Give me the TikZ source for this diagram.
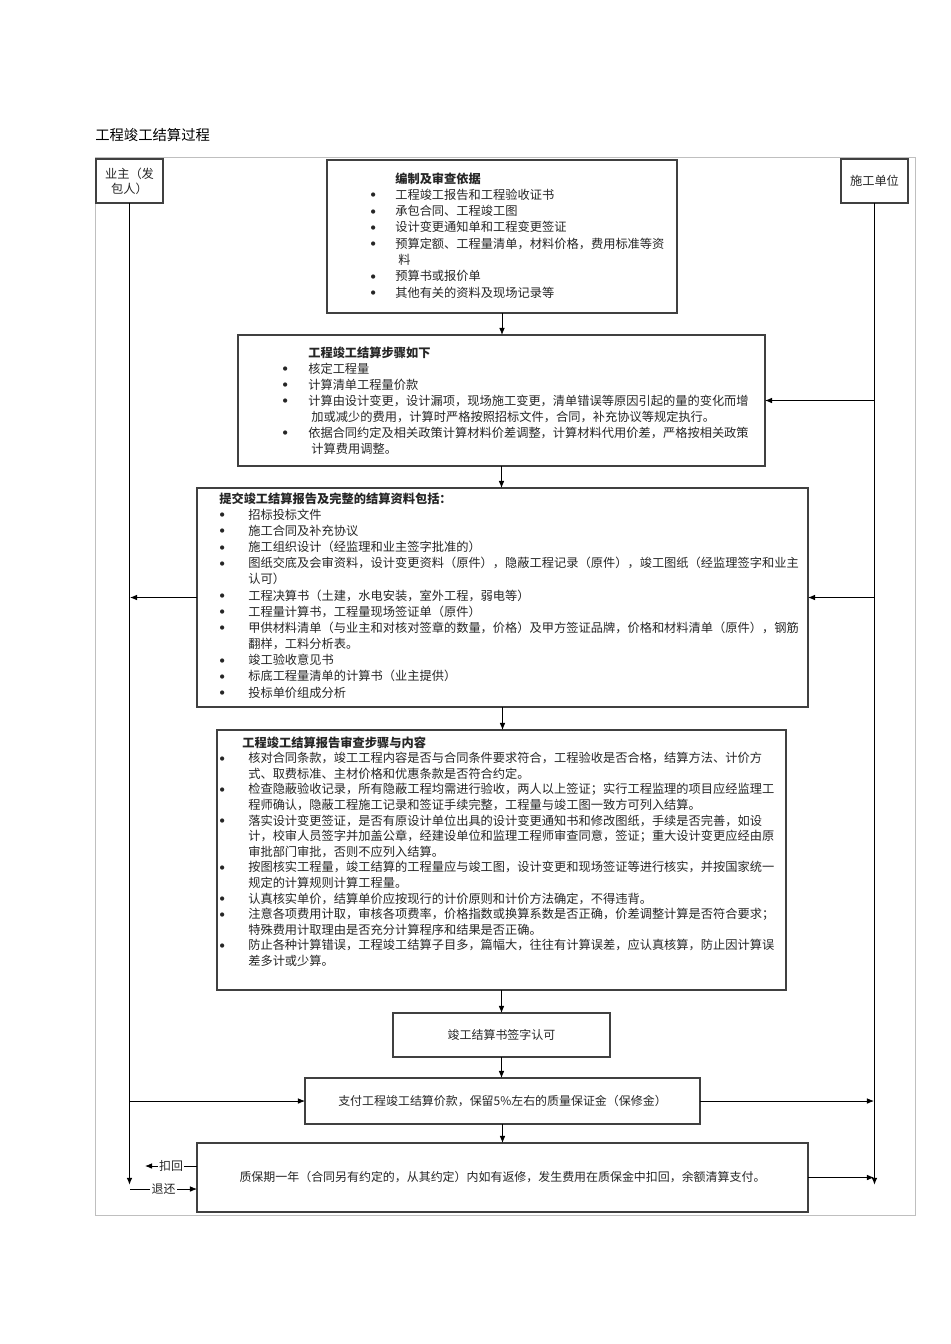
\documentclass[tikz,border=0pt]{standalone}
\usepackage{fontspec}
\setmainfont{Noto Sans CJK SC}
\usetikzlibrary{arrows.meta}
\newcommand{\pxu}{0.025cm}
\newcommand{\dotb}{\raisebox{0.12em}{\scriptsize$\bullet$}}
\tikzset{
  flowbox/.style={draw=black!75, fill=white, line width=1.2pt, inner sep=0pt, outer sep=0pt, anchor=north west, align=center, font=\fontsize{8.5}{11}\selectfont, text=black!85},
  lanebox/.style={flowbox, font=\fontsize{8.7}{10.7}\selectfont},
  listtext/.style={anchor=base west, inner sep=0pt, align=left, text=black!85},
  arr/.style={-{Latex[length=5pt,width=4pt]}, line width=0.6pt, black},
  lane/.style={line width=1pt, draw=black!70},
  tag/.style={fill=white, inner sep=1pt, font=\fontsize{8.5}{10}\selectfont, text=black!85}
}
\begin{document}
\begin{tikzpicture}[x=0.025cm, y=-0.025cm]
        \useasboundingbox (0,0) rectangle (950,1344);

        \node[anchor=west, inner sep=0pt, font=\fontsize{10.2}{12}\selectfont] (title) at (95,135) {工程竣工结算过程};
        \draw[gray!50, line width=0.5pt] (95,157) rectangle (915,1215);

        % lanes
        \node[lanebox, minimum width=67*\pxu, minimum height=44*\pxu] (yezhu) at (96,159) {业主（发\\包人）};
        \node[lanebox, minimum width=67*\pxu, minimum height=44*\pxu] (shigong) at (841,159) {施工单位};
        \coordinate (yzend) at (130,1185);
        \coordinate (sgend) at (874,1185);
        \draw[lane, arr, line width=1pt] (yezhu.south) -- (yezhu.south |- yzend);
        \draw[lane, arr, line width=1pt] (shigong.south) -- (shigong.south |- sgend);

        % boxes
        \node[flowbox, minimum width=350*\pxu, minimum height=153*\pxu] (yiju) at (327,160) {};
        \node[flowbox, minimum width=527*\pxu, minimum height=131*\pxu] (buzhou) at (238,335) {};
        \node[flowbox, minimum width=611*\pxu, minimum height=219*\pxu] (ziliao) at (197,488) {};
        \node[flowbox, minimum width=569*\pxu, minimum height=260*\pxu] (shencha) at (217,730) {};
        \node[flowbox, minimum width=217*\pxu, minimum height=44*\pxu] (qianzi) at (393,1013) {竣工结算书签字认可};
        \node[flowbox, minimum width=395*\pxu, minimum height=46*\pxu] (zhifu) at (305,1078) {支付工程竣工结算价款，保留5\%左右的质量保证金（保修金）};
        \node[flowbox, minimum width=611*\pxu, minimum height=69*\pxu] (zhibao) at (197,1143) {质保期一年（合同另有约定的，从其约定）内如有返修，发生费用在质保金中扣回，余额清算支付。};

        % box texts
        \node[listtext, font=\fontsize{8.7}{11.6}\selectfont] (yijutxt) at (370,183) {\begin{tabular}[t]{@{}p{0.625cm}@{}l@{}}
          & \textbf{编制及审查依据}\\
          \dotb & 工程竣工报告和工程验收证书\\
          \dotb & 承包合同、工程竣工图\\
          \dotb & 设计变更通知单和工程变更签证\\
          \dotb & 预算定额、工程量清单，材料价格，费用标准等资\\
          & \hspace{0.08cm}料\\
          \dotb & 预算书或报价单\\
          \dotb & 其他有关的资料及现场记录等
        \end{tabular}};

        \node[listtext, font=\fontsize{8.7}{11.4}\selectfont] (buzhoutxt) at (282,357) {\begin{tabular}[t]{@{}p{0.65cm}@{}l@{}}
          & \textbf{工程竣工结算步骤如下}\\
          \dotb & 核定工程量\\
          \dotb & 计算清单工程量价款\\
          \dotb & 计算由设计变更，设计漏项，现场施工变更，清单错误等原因引起的量的变化而增\\
          & \hspace{0.08cm}加或减少的费用，计算时严格按照招标文件，合同，补充协议等规定执行。\\
          \dotb & 依据合同约定及相关政策计算材料价差调整，计算材料代用价差，严格按相关政策\\
          & \hspace{0.08cm}计算费用调整。
        \end{tabular}};

        \node[listtext, font=\fontsize{8.7}{11.5}\selectfont] (ziliaotxt) at (219,503) {\begin{tabular}[t]{@{}p{0.725cm}@{}l@{}}
          \multicolumn{2}{@{}l@{}}{\textbf{提交竣工结算报告及完整的结算资料包括：}}\\
          \dotb & 招标投标文件\\
          \dotb & 施工合同及补充协议\\
          \dotb & 施工组织设计（经监理和业主签字批准的）\\
          \dotb & 图纸交底及会审资料，设计变更资料（原件），隐蔽工程记录（原件），竣工图纸（经监理签字和业主\\
          & 认可）\\
          \dotb & 工程决算书（土建，水电安装，室外工程，弱电等）\\
          \dotb & 工程量计算书，工程量现场签证单（原件）\\
          \dotb & 甲供材料清单（与业主和对核对签章的数量，价格）及甲方签证品牌，价格和材料清单（原件），钢筋\\
          & 翻样，工料分析表。\\
          \dotb & 竣工验收意见书\\
          \dotb & 标底工程量清单的计算书（业主提供）\\
          \dotb & 投标单价组成分析
        \end{tabular}};

        \node[listtext, font=\fontsize{8.7}{11.1}\selectfont] (shenchatxt) at (219,747) {\begin{tabular}[t]{@{}p{0.725cm}@{}l@{}}
          \multicolumn{2}{@{}l@{}}{\hspace{0.58cm}\textbf{工程竣工结算报告审查步骤与内容}}\\
          \dotb & 核对合同条款，竣工工程内容是否与合同条件要求符合，工程验收是否合格，结算方法、计价方\\
          & 式、取费标准、主材价格和优惠条款是否符合约定。\\
          \dotb & 检查隐蔽验收记录，所有隐蔽工程均需进行验收，两人以上签证；实行工程监理的项目应经监理工\\
          & 程师确认，隐蔽工程施工记录和签证手续完整，工程量与竣工图一致方可列入结算。\\
          \dotb & 落实设计变更签证，是否有原设计单位出具的设计变更通知书和修改图纸，手续是否完善，如设\\
          & 计，校审人员签字并加盖公章，经建设单位和监理工程师审查同意，签证；重大设计变更应经由原\\
          & 审批部门审批，否则不应列入结算。\\
          \dotb & 按图核实工程量，竣工结算的工程量应与竣工图，设计变更和现场签证等进行核实，并按国家统一\\
          & 规定的计算规则计算工程量。\\
          \dotb & 认真核实单价，结算单价应按现行的计价原则和计价方法确定，不得违背。\\
          \dotb & 注意各项费用计取，审核各项费率，价格指数或换算系数是否正确，价差调整计算是否符合要求；\\
          & 特殊费用计取理由是否充分计算程序和结果是否正确。\\
          \dotb & 防止各种计算错误，工程竣工结算子目多，篇幅大，往往有计算误差，应认真核算，防止因计算误\\
          & 差多计或少算。
        \end{tabular}};

        % main flow
        \draw[arr] (yiju.south) -- (yiju.south |- buzhou.north);
        \draw[arr] (buzhou.south) -- (buzhou.south |- ziliao.north);
        \draw[arr] (ziliao.south) -- (ziliao.south |- shencha.north);
        \draw[arr] (shencha.south) -- (shencha.south |- qianzi.north);
        \draw[arr] (qianzi.south) -- (qianzi.south |- zhifu.north);
        \draw[arr] (zhifu.south) -- (zhifu.south |- zhibao.north);

        % to and from the lanes
        \draw[arr] (buzhou.east -| sgend) -- (buzhou.east);
        \draw[arr] (ziliao.east -| sgend) -- (ziliao.east);
        \draw[arr] (ziliao.west) -- (ziliao.west -| yzend);
        \draw[arr] (zhifu.west -| yzend) -- (zhifu.west);
        \draw[arr] (zhifu.east) -- (zhifu.east -| sgend);
        \draw[arr] (zhibao.east) -- (zhibao.east -| sgend);

        \coordinate (kouhui) at (145,1166);
        \coordinate (tuihuan) at (130,1189);
        \draw[arr] (zhibao.west |- kouhui) -- node[tag] (kouhuitxt) {扣回} (kouhui);
        \draw[arr] (tuihuan) -- node[tag] (tuihuantxt) {退还} (zhibao.west |- tuihuan);
    \end{tikzpicture}
\end{document}
